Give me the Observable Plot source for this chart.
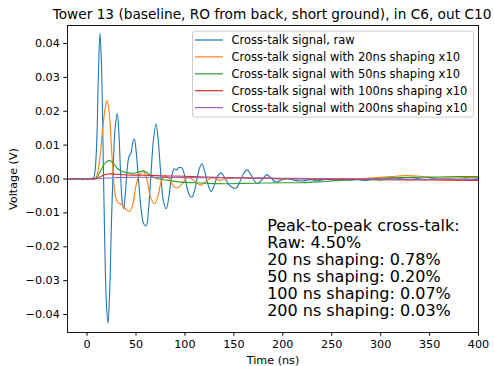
<!DOCTYPE html>
<html>
<head>
<meta charset="utf-8">
<script src="https://cdn.jsdelivr.net/npm/d3@7"></script>
<script src="https://cdn.jsdelivr.net/npm/@observablehq/plot@0.6"></script>
<style>
  html, body { margin: 0; padding: 0; background: white; }
  #wrap { position: relative; width: 494px; height: 366px; font-family: "DejaVu Sans", sans-serif; }
  #wrap > svg { position: absolute; left: 0; top: 0; }
  #legend { position: absolute; left: 0; top: 0; }
</style>
</head>
<body>
<div id="wrap"></div>
<script>
// ---------- data (time in ns, voltage in V) ----------
const title = "Tower 13 (baseline, RO from back, short ground), in C6, out C10";
const seriesNames = [
  "Cross-talk signal, raw",
  "Cross-talk signal with 20ns shaping x10",
  "Cross-talk signal with 50ns shaping x10",
  "Cross-talk signal with 100ns shaping x10",
  "Cross-talk signal with 200ns shaping x10"
];
const seriesColors = ["#1f77b4", "#ff7f0e", "#2ca02c", "#d62728", "#9467bd"];
const xTicks = [0, 50, 100, 150, 200, 250, 300, 350, 400];
const yTicks = [-0.04, -0.03, -0.02, -0.01, 0, 0.01, 0.02, 0.03, 0.04];
const summaryLines = [
  "Peak-to-peak cross-talk:",
  "Raw: 4.50%",
  "20 ns shaping: 0.78%",
  "50 ns shaping: 0.20%",
  "100 ns shaping: 0.07%",
  "200 ns shaping: 0.03%"
];

const raw = [
  [-20,0.0001],[-17,-0.0002],[-14,0.0002],[-11,-0.0001],[-8,0.0002],[-5,-0.0002],[-2,0.0001],[1,-0.0002],[4,0.0002],[6.5,0.0003],
  [8,0.002],[10,0.012],[11.5,0.03],[13.2,0.0431],[14.8,0.033],[16.3,0.010],[18,-0.018],[19.8,-0.037],[21.4,-0.0425],
  [23,-0.034],[24.8,-0.014],[26.8,0.004],[28.8,0.0155],[30.9,0.0193],[32.6,0.013],[34.2,0.002],[35.8,-0.0065],[37.4,-0.0088],
  [39.2,-0.004],[41,0.003],[43,0.0068],[44.8,0.0075],[46.5,0.0105],[48.3,0.0119],[50.2,0.008],[52.8,-0.001],[55.5,-0.0095],
  [58,-0.0133],[60.5,-0.0138],[62.8,-0.009],[65.2,0.001],[67.8,0.0115],[70.4,0.0163],[72.7,0.0115],[75.2,0.002],[78,-0.0065],
  [80.9,-0.0088],[83.5,-0.0055],[86.3,0.0005],[89,0.003],[91.5,0.0027],[93.5,0.0033],[96.5,0.0034],[99,0.0018],[101.8,-0.0022],
  [104.5,-0.0047],[107,-0.0054],[109.5,-0.0038],[112,-0.0005],[114.7,0.003],[117.3,0.0045],[120,0.0025],[123.2,-0.0012],
  [126.8,-0.0037],[130,-0.0018],[133.3,0.0008],[136.7,0.0018],[140.5,0.0005],[144.5,-0.0015],[148.5,-0.0025],[152.3,-0.0027],
  [156.2,-0.0008],[160,0.0017],[163.9,0.0027],[167.3,0.0013],[170.7,-0.0004],[174,-0.0014],[178.8,-0.0002],[183.7,0.0013],
  [188.3,0.0002],[193,-0.0009],[198,-0.0004],[205,0.0001],[212,-0.0004],[220,-0.0006],[228,-0.0002],[236,-0.0005],[244,-0.0001],
  [252,-0.0003],[260,0.0001],[268,-0.0003],[276,-0.0001],[284,-0.0004],[292,-0.0001],[300,-0.0003],[308,0.0001],[316,0.0004],
  [322,0.0],[330,-0.0002],[338,0.0001],[346,-0.0002],[354,0.0001],[362,-0.0001],[370,0.0001],[378,-0.0002],[386,0.0],[394,-0.0001],[400,0.0001]
];
const shaped20 = [
  [-20,0],[0,0],[8,0.0001],[10,0.001],[13,0.006],[16,0.015],[18.5,0.021],[20.4,0.0232],[22.5,0.020],[25,0.009],[27,0.0],
  [29,-0.005],[31,-0.0068],[33.5,-0.0072],[36.5,-0.0078],[40,-0.009],[43.5,-0.0095],[46.5,-0.0078],[50,-0.002],[54,0.0015],
  [57.8,0.0022],[61,0.0],[65,-0.0055],[69,-0.0073],[72.5,-0.005],[76,-0.0005],[80,0.001],[84,0.0],[88,-0.002],[92,-0.0026],
  [97,-0.0015],[103,0.0005],[109,-0.0004],[116,-0.0018],[122,-0.0006],[128,0.0004],[135,-0.0004],[142,0.0001],[150,0.0003],
  [160,0.0005],[170,0.0002],[180,0.0004],[195,0.0],[210,0.0002],[230,0.0001],[250,-0.0001],[270,0.0001],[290,0.0003],
  [310,0.0007],[325,0.001],[340,0.0008],[355,0.0003],[370,0.0002],[385,0.0004],[400,0.0005]
];
const shaped50 = [
  [-20,0],[0,0],[8,0.0001],[10,0.0005],[14,0.0025],[18,0.0045],[22.8,0.0055],[27,0.0046],[31,0.0031],[36,0.0022],[42,0.0018],
  [48,0.0017],[53,0.0021],[57.8,0.0024],[62,0.0016],[67,0.0006],[73,0.0],[80,-0.0003],[90,-0.0007],[100,-0.001],[110,-0.0011],
  [125,-0.0013],[140,-0.0014],[160,-0.0013],[180,-0.0012],[200,-0.0011],[220,-0.0011],[240,-0.0008],[260,-0.0004],[280,-0.0001],
  [300,0.0002],[320,0.0004],[340,0.0005],[360,0.0006],[380,0.0007],[400,0.0007]
];
const shaped100 = [
  [-20,0],[0,0],[8,0.0001],[10,0.0002],[15,0.0009],[20,0.0014],[24,0.0015],[30,0.0014],[40,0.0012],[60,0.0011],[80,0.0009],
  [100,0.0008],[130,0.0005],[160,0.0003],[200,0.0001],[250,-0.0001],[300,-0.0002],[350,-0.0003],[400,-0.0004]
];
const shaped200 = [
  [-20,0],[0,0],[8,0.0],[12,0.0001],[20,0.0003],[30,0.0004],[50,0.0005],[100,0.0004],[150,0.0003],[200,0.0002],
  [250,0.0001],[300,0.0],[350,-0.0001],[400,-0.0001]
];
const allSeries = [raw, shaped20, shaped50, shaped100, shaped200];

// annotation anchor (data coordinates)
const summaryX = 184;
const summaryYBottom = -0.0404;

// ---------- chart ----------
const W = 494, H = 366;
const lineMarks = allSeries.map((s, i) =>
  Plot.line(s, {x: d => d[0], y: d => d[1], stroke: seriesColors[i], strokeWidth: 1.1, curve: "catmull-rom"})
);

const chart = Plot.plot({
  width: W, height: H,
  marginLeft: 67, marginRight: 16, marginTop: 25, marginBottom: 34,
  style: {fontFamily: "DejaVu Sans, sans-serif", fontSize: "11.2px", background: "white", color: "black", overflow: "visible"},
  x: {domain: [-20, 400]},
  y: {domain: [-0.0453, 0.0453]},
  marks: [
    ...lineMarks,
    Plot.frame({stroke: "black", strokeWidth: 0.9}),
    Plot.axisX({ticks: xTicks, tickFormat: d => String(d), tickSize: 3.7, tickPadding: 3.5, fontSize: "11.2px",
      label: "Time (ns)", labelAnchor: "center", labelArrow: "none", labelOffset: 31}),
    Plot.axisY({ticks: yTicks, tickFormat: d3.format(".2f"), tickSize: 3.7, tickPadding: 4, fontSize: "11.2px",
      label: "Voltage (V)", labelAnchor: "center", labelArrow: "none", labelOffset: 58}),
    Plot.text([title], {frameAnchor: "top", lineAnchor: "bottom", dy: -7, dx: -1, fontSize: "13.7px", text: d => d}),
    Plot.text([summaryLines.join("\n")], {x: summaryX, y: summaryYBottom, text: d => d, textAnchor: "start",
      lineAnchor: "bottom", lineHeight: 1.056, fontSize: "16px", fill: "black"})
  ]
});
document.getElementById("wrap").appendChild(chart);

// ---------- legend (upper right, overlay) ----------
const lg = {left: 192, top: 30.6, width: 281, height: 86, rowY0: 40, rowStep: 16.9, handleX0: 195, handleX1: 223, textX: 231.5};
const lsvg = d3.select("#wrap").append("svg")
  .attr("id", "legend").attr("width", W).attr("height", H)
  .style("position", "absolute").style("left", 0).style("top", 0).style("pointer-events", "none");
lsvg.append("rect")
  .attr("x", lg.left + 0.5).attr("y", lg.top + 0.5).attr("width", lg.width).attr("height", lg.height)
  .attr("rx", 3).attr("fill", "white").attr("fill-opacity", 0.8).attr("stroke", "#cccccc").attr("stroke-width", 1);
seriesNames.forEach((name, i) => {
  const y = lg.rowY0 + i * lg.rowStep;
  lsvg.append("line").attr("x1", lg.handleX0).attr("x2", lg.handleX1).attr("y1", y).attr("y2", y)
    .attr("stroke", seriesColors[i]).attr("stroke-width", 1.2);
  lsvg.append("text").attr("x", lg.textX).attr("y", y).attr("dy", "0.35em")
    .attr("font-family", "DejaVu Sans, sans-serif").attr("font-size", "11.5px").attr("fill", "black").text(name);
});
</script>
</body>
</html>
